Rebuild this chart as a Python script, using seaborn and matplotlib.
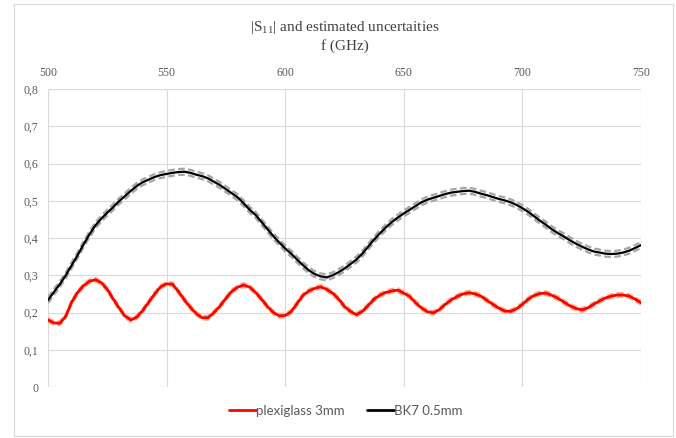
import numpy as np
import pandas as pd
import matplotlib
matplotlib.use("Agg")
import matplotlib.pyplot as plt
from matplotlib.patches import Rectangle
from matplotlib.lines import Line2D
import seaborn as sns

# Frequency grid (GHz)
freq = np.linspace(500, 750, 101)

# |S11| of the 3 mm plexiglass sample
plexiglass = [
    0.180, 0.172, 0.171, 0.190, 0.228, 0.254, 0.272, 0.284, 0.288, 0.280,
    0.262, 0.236, 0.212, 0.190, 0.180, 0.188, 0.206, 0.228, 0.250, 0.269,
    0.277, 0.276, 0.256, 0.234, 0.214, 0.197, 0.186, 0.186, 0.200, 0.217,
    0.238, 0.257, 0.268, 0.274, 0.268, 0.254, 0.236, 0.216, 0.200, 0.191,
    0.192, 0.202, 0.224, 0.246, 0.258, 0.265, 0.269, 0.262, 0.252, 0.236,
    0.216, 0.203, 0.194, 0.203, 0.219, 0.236, 0.247, 0.254, 0.258, 0.260,
    0.252, 0.243, 0.226, 0.212, 0.202, 0.199, 0.208, 0.222, 0.234, 0.243,
    0.250, 0.253, 0.250, 0.244, 0.233, 0.222, 0.212, 0.204, 0.203, 0.210,
    0.222, 0.236, 0.246, 0.251, 0.252, 0.246, 0.238, 0.228, 0.218, 0.211,
    0.207, 0.212, 0.222, 0.231, 0.239, 0.244, 0.247, 0.247, 0.244, 0.236,
    0.226,
]

# |S11| of the 0.5 mm BK7 sample
bk7 = [
    0.233, 0.255, 0.276, 0.300, 0.327, 0.354, 0.383, 0.410, 0.434, 0.452,
    0.468, 0.483, 0.499, 0.513, 0.527, 0.540, 0.550, 0.557, 0.564, 0.569,
    0.572, 0.575, 0.577, 0.578, 0.575, 0.570, 0.566, 0.560, 0.551, 0.542,
    0.531, 0.520, 0.509, 0.493, 0.476, 0.462, 0.443, 0.424, 0.405, 0.388,
    0.372, 0.358, 0.342, 0.327, 0.313, 0.303, 0.297, 0.294, 0.300, 0.308,
    0.318, 0.330, 0.342, 0.358, 0.377, 0.396, 0.413, 0.429, 0.443, 0.455,
    0.466, 0.476, 0.486, 0.496, 0.503, 0.508, 0.513, 0.518, 0.522, 0.524,
    0.526, 0.527, 0.524, 0.519, 0.515, 0.510, 0.505, 0.501, 0.496, 0.489,
    0.480, 0.470, 0.458, 0.446, 0.435, 0.423, 0.413, 0.404, 0.394, 0.385,
    0.377, 0.370, 0.364, 0.361, 0.358, 0.357, 0.358, 0.361, 0.366, 0.373,
    0.381,
]

# Estimated measurement uncertainty (absolute, on |S11|)
plexiglass_unc = 0.005
bk7_unc = 0.008

series_names = ["plexiglass 3mm", "BK7 0.5mm"]
x_ticks = [500, 550, 600, 650, 700, 750]
y_ticks = [0.0, 0.1, 0.2, 0.3, 0.4, 0.5, 0.6, 0.7, 0.8]
y_tick_labels = ["0", "0,1", "0,2", "0,3", "0,4", "0,5", "0,6", "0,7", "0,8"]

df = pd.DataFrame({
    "f": freq,
    "plexiglass": plexiglass,
    "bk7": bk7,
})
df["plexiglass_hi"] = df["plexiglass"] + plexiglass_unc
df["plexiglass_lo"] = df["plexiglass"] - plexiglass_unc
df["bk7_hi"] = df["bk7"] + bk7_unc
df["bk7_lo"] = df["bk7"] - bk7_unc

sns.set_theme(style="white")
plt.rcParams["font.family"] = ["Liberation Serif", "DejaVu Serif"]
plt.rcParams["mathtext.fontset"] = "custom"
plt.rcParams["mathtext.rm"] = "Liberation Serif"

text_grey = "#595959"
grid_grey = "#d9d9d9"
red = "#ff0000"
red_band = "#f4b183"
black = "#000000"
grey_band = "#a6a6a6"

fig = plt.figure(figsize=(6.76, 4.38), dpi=100)
ax = fig.add_axes([48 / 676, 1 - 387 / 438, (641 - 48) / 676, (387 - 89) / 438])

band_style = dict(linestyle=(0, (3, 1.5)), linewidth=1.6)
sns.lineplot(data=df, x="f", y="plexiglass_hi", ax=ax, color=red_band, **band_style)
sns.lineplot(data=df, x="f", y="plexiglass_lo", ax=ax, color=red_band, **band_style)
sns.lineplot(data=df, x="f", y="bk7_hi", ax=ax, color=grey_band, **band_style)
sns.lineplot(data=df, x="f", y="bk7_lo", ax=ax, color=grey_band, **band_style)
sns.lineplot(data=df, x="f", y="plexiglass", ax=ax, color=red, linewidth=2.0)
sns.lineplot(data=df, x="f", y="bk7", ax=ax, color=black, linewidth=1.6)

ax.set_xlim(500, 750)
ax.set_ylim(0, 0.8)
ax.set_xticks(x_ticks)
ax.set_yticks(y_ticks)
ax.set_yticklabels(y_tick_labels)
ax.xaxis.tick_top()
ax.set_xlabel("")
ax.set_ylabel("")
ax.tick_params(axis="both", length=0, labelsize=8.5, labelcolor=text_grey)
ax.tick_params(axis="x", pad=7.5)
ax.tick_params(axis="y", pad=7)
ax.grid(True, color=grid_grey, linewidth=0.8)
ax.set_axisbelow(True)
for s in ax.spines.values():
    s.set_visible(False)

fig.text(344.5 / 676, 1 - 28 / 438, r"|S$_{\mathregular{11}}$| and estimated uncertaities",
         ha="center", va="center", fontsize=11, color="#404040")
fig.text(344.5 / 676, 1 - 46 / 438, "f (GHz)",
         ha="center", va="center", fontsize=11, color="#404040")

handles = [Line2D([], [], color=red, linewidth=2.0),
           Line2D([], [], color=black, linewidth=2.0)]
fig.legend(handles, series_names, loc="center", bbox_to_anchor=(346 / 676, 1 - 411 / 438),
           ncol=2, frameon=False, handlelength=2.0, handletextpad=0.05, columnspacing=1.7,
           prop={"family": ["Lato", "DejaVu Sans"], "size": 9.5}, labelcolor=text_grey)

fig.patches.append(Rectangle((14 / 676, 1 - 436 / 438), (673 - 14) / 676, (436 - 4) / 438,
                             transform=fig.transFigure, fill=False, edgecolor=grid_grey,
                             linewidth=0.8))

fig.savefig("out.png", dpi=100, facecolor="white")
